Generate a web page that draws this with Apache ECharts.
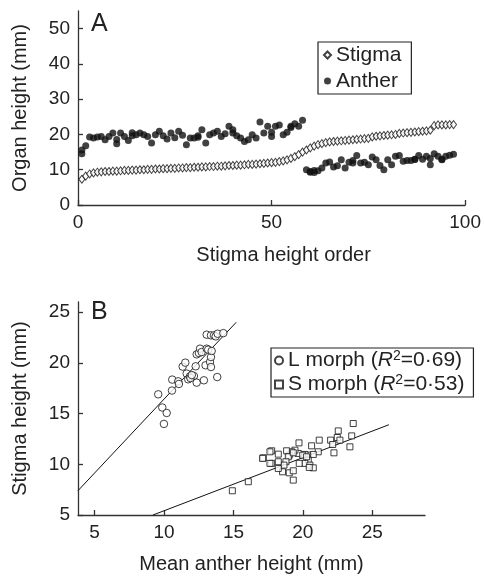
<!DOCTYPE html>
<html>
<head>
<meta charset="utf-8">
<script src="https://cdn.jsdelivr.net/npm/echarts@6/dist/echarts.min.js"></script>
<style>
  html, body { margin: 0; background: #fff; }
  #chart { width: 484px; height: 576px; }
</style>
</head>
<body>
<div id="chart"></div>
<script>
// panel A: stigma height by rank (1..97) and anther height of the same flower
const stigma = [
  7.3, 8.2, 8.8, 9.1, 9.3, 9.4, 9.5, 9.5, 9.6, 9.6,
  9.7, 9.8, 9.8, 9.9, 9.9, 10.0, 10.0, 10.1, 10.1, 10.2,
  10.2, 10.3, 10.3, 10.4, 10.4, 10.5, 10.5, 10.6, 10.6, 10.7,
  10.7, 10.8, 10.8, 10.9, 10.9, 11.0, 11.0, 11.1, 11.2, 11.2,
  11.3, 11.3, 11.4, 11.5, 11.5, 11.6, 11.7, 11.8, 11.9, 12.0,
  12.1, 12.3, 12.5, 12.8, 13.2, 13.7, 14.3, 15.0, 15.6, 16.2,
  16.7, 17.1, 17.4, 17.7, 17.9, 18.0, 18.1, 18.2, 18.3, 18.4,
  18.5, 18.6, 18.7, 18.8, 18.9, 19.3, 19.5, 19.6, 19.7, 19.8,
  19.9, 20.0, 20.3, 20.4, 20.5, 20.6, 20.7, 20.8, 20.9, 21.0,
  21.2, 22.5, 22.7, 22.7, 22.7, 22.8, 22.8
];
const anther = [
  14.5, 16.8, 19.3, 19.0, 19.3, 19.4, 18.5, 19.4, 20.4, 17.4,
  20.4, 19.4, 18.3, 19.6, 19.9, 20.4, 19.9, 19.4, 17.6, 19.9,
  20.9, 19.6, 18.7, 20.4, 19.1, 20.9, 19.8, 17.1, 19.0, 19.0,
  19.2, 21.3, 17.6, 19.9, 20.4, 20.9, 19.4, 20.2, 22.3, 21.3,
  19.6, 19.0, 18.0, 18.5, 19.9, 19.0, 23.5, 20.4, 22.3, 19.4,
  22.3, 22.7, 19.9, 20.6, 22.3, 23.0, 22.3, 24.0, 10.0, 9.5,
  9.2, 9.7, 10.5, 11.9, 12.2, 10.8, 11.1, 12.8, 10.5, 12.1,
  11.9, 14.0, 11.9, 12.1, 11.4, 13.6, 12.8, 11.2, 10.0, 12.8,
  11.4, 13.8, 14.0, 12.4, 12.6, 12.6, 13.0, 14.0, 13.0, 13.8,
  11.4, 14.5, 13.8, 13.0, 13.8, 14.1, 14.4
];
// a second anther reading at some ranks
const antherExtra = [
  [1, 15.6], [10, 18.6], [14, 20.5], [31, 19.6], [40, 20.4], [50, 20.6],
  [55, 22.0], [60, 9.3], [61, 9.8], [71, 12.6], [87, 12.9], [91, 13.2], [94, 12.8]
];

// panel B: [mean anther height, stigma height]
const lMorph = [
  [9.58, 16.9], [9.87, 15.6], [10.19, 15.06], [9.99, 13.98], [10.59, 18.35],
  [10.57, 17.27], [11.02, 18.18], [11.07, 17.92], [11.34, 19.63], [11.53, 20.02],
  [11.63, 18.94], [11.74, 18.38], [11.87, 18.67], [12.15, 18.7], [12.28, 19.66],
  [12.35, 18.05], [12.35, 20.84], [12.51, 20.97], [12.59, 21.4], [12.71, 21.07],
  [12.87, 18.28], [12.99, 19.76], [13.07, 21.4], [13.07, 22.78], [13.18, 21.3],
  [13.31, 20.08], [13.38, 19.59], [13.38, 20.57], [13.43, 21.17], [13.38, 22.71],
  [13.6, 22.71], [13.72, 22.61], [13.83, 18.6], [13.86, 22.87], [14.27, 22.93],
  [11.9, 18.5], [12.0, 18.8]
];
const sMorph = [
  [23.63, 14.02], [22.55, 13.29], [23.52, 12.8], [22.48, 12.64], [22.67, 12.38],
  [22.0, 12.38], [22.15, 11.95], [23.39, 11.72], [22.24, 11.13], [21.18, 12.38],
  [20.63, 11.82], [21.11, 11.23], [20.75, 10.97], [20.35, 10.9], [20.15, 10.97],
  [20.39, 10.41], [20.15, 10.09], [20.51, 9.92], [20.75, 9.65], [20.46, 9.69],
  [19.72, 12.11], [19.67, 11.07], [19.43, 11.39], [19.19, 11.23], [19.02, 10.9],
  [18.83, 11.33], [18.95, 10.74], [18.78, 10.25], [18.64, 9.92], [18.54, 9.26],
  [19.02, 9.16], [19.31, 9.36], [19.31, 8.44], [18.23, 11.0], [18.23, 10.25],
  [17.75, 11.33], [17.75, 10.09], [18.23, 9.59], [17.15, 10.64], [19.74, 10.09],
  [19.99, 10.9], [20.27, 10.74], [19.31, 11.13], [14.92, 7.39], [16.07, 8.28],
  [17.1, 10.58], [17.63, 11.23], [17.63, 10.09]
];
// fitted regression lines, end points
const lFit = [[3.8, 7.4], [15.2, 24.0]];
const sFit = [[9.2, 5.0], [26.2, 13.9]];
const r2 = { 'L morph': '0·69', 'S morph': '0·53' };

const orderTicks = [0, 50, 100];
const organTicks = [0, 10, 20, 30, 40, 50];
const antherTicks = [5, 10, 15, 20, 25];
const stigmaTicks = [5, 10, 15, 20, 25];

const font = 'Liberation Sans';
const ink = '#222';

function axis(gridIndex, min, max, ticks, name, gap, extra) {
  return Object.assign({
    type: 'value',
    gridIndex: gridIndex,
    min: min,
    max: max,
    name: name,
    nameLocation: 'middle',
    nameGap: gap,
    nameTextStyle: { fontFamily: font, fontSize: 20, color: ink },
    axisLine: { show: true, lineStyle: { color: '#333', width: 1.3 } },
    axisTick: { show: true, inside: true, length: 5, customValues: ticks, lineStyle: { color: '#333', width: 1.3 } },
    axisLabel: { customValues: ticks, fontFamily: font, fontSize: 19, color: ink, margin: 8 },
    splitLine: { show: false }
  }, extra || {});
}

const chart = echarts.init(document.getElementById('chart'));

chart.setOption({
  animation: false,
  backgroundColor: '#fff',
  textStyle: { fontFamily: font },
  grid: [
    { left: 78, right: 16, top: 11, bottom: 371 },
    { left: 78, right: 59, top: 302, bottom: 61 }
  ],
  xAxis: [
    axis(0, 0, 100, orderTicks, 'Stigma height order', 40, { nameTextStyle: { fontFamily: font, fontSize: 20, color: ink, padding: [0, 0, 0, 24] } }),
    axis(1, 3.8, 28.8, antherTicks, 'Mean anther height (mm)', 39)
  ],
  yAxis: [
    axis(0, 0, 55, organTicks, 'Organ height (mm)', 48),
    axis(1, 5, 26, stigmaTicks, 'Stigma height (mm)', 48)
  ],
  legend: [
    {
      data: ['Stigma', 'Anther'],
      orient: 'vertical',
      left: 318, top: 42,
      padding: [1, 10, 1, 5],
      itemGap: 2,
      itemWidth: 7, itemHeight: 7,
      borderColor: '#222', borderWidth: 1.2,
      selectedMode: false,
      textStyle: { fontFamily: font, fontSize: 21, color: ink, lineHeight: 24 }
    },
    {
      data: ['L morph', 'S morph'],
      orient: 'vertical',
      left: 271, top: 348,
      padding: [1, 9, 1, 3],
      itemGap: 1,
      itemWidth: 8, itemHeight: 8,
      borderColor: '#222', borderWidth: 1.2,
      selectedMode: false,
      formatter: function (name) {
        return '{t|' + name + ' (}{i|R}{s|2}{t|=' + r2[name] + ')}';
      },
      textStyle: {
        fontFamily: font, fontSize: 21, color: ink, lineHeight: 23,
        rich: {
          t: { fontFamily: font, fontSize: 21, color: ink, lineHeight: 23 },
          i: { fontFamily: font, fontSize: 21, color: ink, fontStyle: 'italic', lineHeight: 23 },
          s: { fontFamily: font, fontSize: 14, color: ink, verticalAlign: 'top', lineHeight: 14 }
        }
      }
    }
  ],
  graphic: [
    { type: 'text', left: 91, top: 12, style: { text: 'A', font: '25px "Liberation Sans"', fill: ink } },
    { type: 'text', left: 91, top: 300, style: { text: 'B', font: '25px "Liberation Sans"', fill: ink } }
  ],
  series: [
    {
      name: 'Stigma', type: 'scatter', xAxisIndex: 0, yAxisIndex: 0,
      symbol: 'diamond', symbolSize: [6, 8],
      itemStyle: { color: '#fff', borderColor: '#111', borderWidth: 1 },
      data: stigma.map((v, i) => [i + 1, v])
    },
    {
      name: 'Anther', type: 'scatter', xAxisIndex: 0, yAxisIndex: 0,
      symbol: 'circle', symbolSize: 7,
      itemStyle: { color: '#111' },
      data: anther.map((v, i) => [i + 1, v]).concat(antherExtra)
    },
    {
      name: 'L morph', type: 'scatter', xAxisIndex: 1, yAxisIndex: 1,
      symbol: 'circle', symbolSize: 7.5,
      itemStyle: { color: '#fff', borderColor: '#111', borderWidth: 1 },
      data: lMorph
    },
    {
      name: 'S morph', type: 'scatter', xAxisIndex: 1, yAxisIndex: 1,
      symbol: 'rect', symbolSize: 6,
      itemStyle: { color: '#fff', borderColor: '#111', borderWidth: 1 },
      data: sMorph
    },
    {
      name: 'L fit', type: 'line', xAxisIndex: 1, yAxisIndex: 1,
      symbol: 'none', lineStyle: { color: '#111', width: 1 }, z: 1,
      data: lFit
    },
    {
      name: 'S fit', type: 'line', xAxisIndex: 1, yAxisIndex: 1,
      symbol: 'none', lineStyle: { color: '#111', width: 1 }, z: 1,
      data: sFit
    }
  ]
});
</script>
</body>
</html>
